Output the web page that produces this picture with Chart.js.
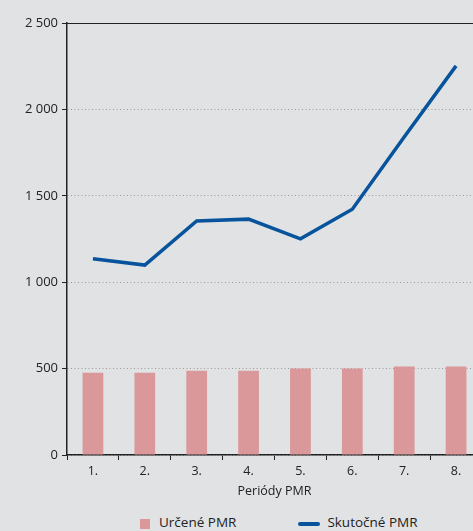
<!DOCTYPE html>
<html>
<head>
<meta charset="utf-8">
<script src="https://cdn.jsdelivr.net/npm/chart.js@4"></script>
<style>
  html, body { margin: 0; padding: 0; background: #e1e2e4; overflow: hidden; }
  #wrap { position: relative; width: 473px; height: 531px; overflow: hidden; }
  #box { position: absolute; left: 0; top: 0; width: 482px; height: 499px; }
  #legend { position: absolute; top: 512px; left: 140px; font: 13.5px "Open Sans", sans-serif; color: #222; white-space: nowrap; }
  #legend span.item { display: inline-block; vertical-align: middle; }
  .sw { display: inline-block; vertical-align: middle; margin-right: 9px; }
</style>
</head>
<body>
<div id="wrap">
  <div id="box"><canvas id="c" width="482" height="499"></canvas></div>
  <div id="legend"></div>
</div>
<script>
const periods = ["1.", "2.", "3.", "4.", "5.", "6.", "7.", "8."];
const urcene = [476, 476, 488, 488, 500, 500, 512, 512];
const skutocne = [1136, 1099, 1354, 1365, 1251, 1422, 1840, 2252];
const yTicks = [0, 500, 1000, 1500, 2000, 2500];

const barColor = "#da989a";
const lineColor = "#07549d";
const textColor = "#222222";

function fmt(v) {
  return String(v).replace(/\B(?=(\d{3})+(?!\d))/g, " ");
}

const topLine = {
  id: "topLine",
  afterDraw(chart) {
    const a = chart.chartArea;
    const ctx = chart.ctx;
    ctx.save();
    ctx.strokeStyle = "#222";
    ctx.lineWidth = 1;
    ctx.beginPath();
    ctx.moveTo(a.left, Math.round(a.top) + 0.5);
    ctx.lineTo(chart.width, Math.round(a.top) + 0.5);
    ctx.stroke();
    ctx.restore();
  }
};

const chart = new Chart(document.getElementById("c"), {
  data: {
    labels: periods,
    datasets: [
      {
        type: "line",
        label: "Skutočné PMR",
        data: skutocne,
        borderColor: lineColor,
        backgroundColor: lineColor,
        borderWidth: 3.5,
        pointRadius: 0,
        tension: 0,
        order: 1
      },
      {
        type: "bar",
        label: "Určené PMR",
        data: urcene,
        backgroundColor: barColor,
        barPercentage: 0.4,
        categoryPercentage: 1,
        order: 2
      }
    ]
  },
  options: {
    responsive: false,
    animation: false,
    layout: { padding: { top: 23, left: 0, right: 0, bottom: 0 } },
    plugins: { legend: { display: false }, tooltip: { enabled: false } },
    scales: {
      x: {
        offset: true,
        grid: { offset: true, drawOnChartArea: false, tickLength: 5, color: "#222" },
        border: { color: "#222", width: 1.5 },
        ticks: { color: textColor, font: { family: "Open Sans", size: 12.5 }, padding: 4 },
        title: { display: true, text: "Periódy PMR", color: textColor, font: { family: "Open Sans", size: 12.5 }, padding: { top: 0, bottom: 0 } },
        afterFit(s) { s.height = 44; }
      },
      y: {
        min: 0,
        max: 2500,
        afterBuildTicks(s) { s.ticks = yTicks.map(v => ({ value: v })); },
        grid: { color: "#9a9a9a", tickColor: "#222", tickLength: 5, lineWidth: 1, tickBorderDash: [] },
        border: { color: "#222", width: 1.5, dash: [1, 2.5] },
        ticks: { color: textColor, font: { family: "Open Sans", size: 13 }, padding: 4, callback: v => fmt(v) },
        afterFit(s) { s.width = 67; }
      }
    }
  },
  plugins: [topLine]
});

// legend in HTML, built from the datasets
const lg = document.getElementById("legend");
const order = [1, 0];
order.forEach((i, k) => {
  const ds = chart.data.datasets[i];
  const item = document.createElement("span");
  item.className = "item";
  if (k > 0) item.style.marginLeft = "62px";
  const sw = document.createElement("span");
  sw.className = "sw";
  if (ds.type === "bar") {
    sw.style.width = "10px"; sw.style.height = "10px"; sw.style.background = ds.backgroundColor;
  } else {
    sw.style.width = "22px"; sw.style.height = "4px"; sw.style.borderRadius = "2px"; sw.style.background = ds.borderColor;
    sw.style.marginRight = "7px";
  }
  item.appendChild(sw);
  item.appendChild(document.createTextNode(ds.label));
  lg.appendChild(item);
});
</script>
</body>
</html>
